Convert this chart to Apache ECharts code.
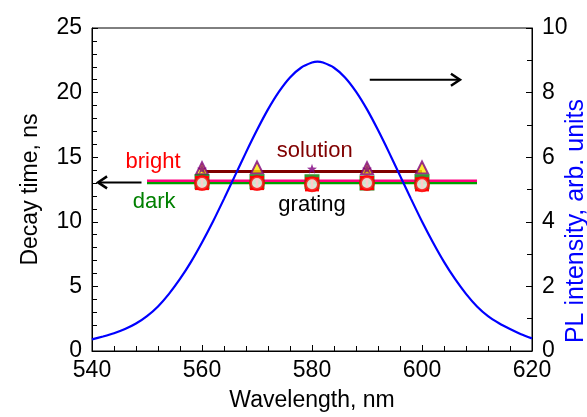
<!DOCTYPE html>
<html>
<head>
<meta charset="utf-8">
<script src="https://cdn.jsdelivr.net/npm/echarts@6/dist/echarts.min.js"></script>
<style>
  html, body { margin: 0; padding: 0; background: #fff; }
  #chart { width: 587px; height: 417px; }
</style>
</head>
<body>
<div id="chart"></div>
<script>
// PL spectrum (right axis)
const wavelength = [540, 542, 544, 546, 548, 550, 552, 554, 556, 558, 560, 562, 564, 566, 568, 570, 572, 574, 576, 578, 580, 581,
  582, 584, 586, 588, 590, 592, 594, 596, 598, 600, 602, 604, 606, 608, 610, 612, 614, 616, 618, 620];
const plIntensity = [0.36, 0.45, 0.55, 0.68, 0.85, 1.08, 1.38, 1.77, 2.23, 2.76, 3.36, 4.01, 4.71, 5.43, 6.15, 6.84, 7.48, 8.03, 8.47, 8.77, 8.93, 8.96,
  8.93, 8.77, 8.47, 8.03, 7.48, 6.84, 6.15, 5.43, 4.71, 4.01, 3.36, 2.76, 2.23, 1.77, 1.38, 1.08, 0.86, 0.68, 0.52, 0.39];

// decay times (left axis)
const markerWl = [560, 570, 580, 590, 600];
const brightCircle = [13.0, 13.0, 12.9, 13.0, 12.9];
const brightErr = [0.45, 0.45, 0.45, 0.45, 0.45];
const darkSquare = [13.1, 13.1, 13.1, 13.0, 13.1];
const solutionTriWl = [560, 570, 590, 600];
const solutionTri = [14.15, 14.2, 14.15, 14.2];
const solutionStarWl = [560, 580, 590];
const solutionStar = [14.1, 14.1, 14.1];

// fitted levels
const solutionLevelWl = [560, 600];
const solutionLevel = [13.9, 13.9];
const gratingLevelWl = [550, 610];
const brightLevel = [13.18, 13.18];
const darkLevel = [13.02, 13.02];

const pair = (xs, ys) => xs.map((x, i) => [x, ys[i]]);

const font = 'Liberation Sans, Arial, sans-serif';
const star = 'path://M0,-10L2.35,-3.24L9.51,-3.09L3.8,1.24L5.88,8.09L0,4L-5.88,8.09L-3.8,1.24L-9.51,-3.09L-2.35,-3.24Z';

var chart = echarts.init(document.getElementById('chart'));

var option = {
  animation: false,
  backgroundColor: '#fff',
  grid: { left: 92, right: 55, top: 28, bottom: 64, show: true, borderColor: '#000', borderWidth: 1 },
  xAxis: {
    type: 'value', min: 540, max: 620, interval: 20,
    name: 'Wavelength, nm', nameLocation: 'middle', nameGap: 38,
    nameTextStyle: { fontFamily: font, fontSize: 23, color: '#000' },
    axisLine: { lineStyle: { color: '#000', width: 1 } },
    axisTick: { inside: true, length: 6, lineStyle: { color: '#000' } },
    minorTick: { show: true, splitNumber: 5, length: 5, lineStyle: { color: '#000' } },
    axisLabel: { fontFamily: font, fontSize: 23, color: '#000', margin: 8 },
    splitLine: { show: false }
  },
  yAxis: [{
    type: 'value', min: 0, max: 25, interval: 5,
    name: 'Decay time, ns', nameLocation: 'middle', nameGap: 50,
    nameTextStyle: { fontFamily: font, fontSize: 23, color: '#000' },
    axisLine: { show: true, lineStyle: { color: '#000', width: 1 } },
    axisTick: { show: true, inside: true, length: 6, lineStyle: { color: '#000' } },
    minorTick: { show: true, splitNumber: 5, length: 5, lineStyle: { color: '#000' } },
    axisLabel: { fontFamily: font, fontSize: 23, color: '#000', margin: 10 },
    splitLine: { show: false }
  }, {
    type: 'value', min: 0, max: 10, interval: 2, position: 'right',
    axisLine: { show: true, lineStyle: { color: '#000', width: 1 } },
    axisTick: { show: true, inside: true, length: 6, lineStyle: { color: '#000' } },
    minorTick: { show: true, splitNumber: 2, length: 5, lineStyle: { color: '#000' } },
    axisLabel: { fontFamily: font, fontSize: 23, color: '#000', margin: 10 },
    splitLine: { show: false }
  }],
  series: [
    {
      type: 'line', data: pair(solutionLevelWl, solutionLevel), symbol: 'none',
      lineStyle: { color: '#800000', width: 3 }, z: 2
    },
    {
      type: 'line', data: pair(gratingLevelWl, darkLevel), symbol: 'none',
      lineStyle: { color: '#00a000', width: 3 }, z: 2
    },
    {
      type: 'line', data: pair(gratingLevelWl, brightLevel), symbol: 'none',
      lineStyle: { color: '#ff0080', width: 2.5 }, z: 2
    },
    {
      type: 'line', yAxisIndex: 1, data: pair(wavelength, plIntensity),
      symbol: 'none', smooth: 0.2, lineStyle: { color: '#0000ff', width: 2.2 }, z: 3
    },
    {
      type: 'scatter', data: pair(solutionTriWl, solutionTri), symbol: 'triangle', symbolSize: 12,
      itemStyle: { color: '#ffe800', borderColor: '#800080', borderWidth: 2 }, z: 4
    },
    {
      type: 'scatter', data: pair(solutionStarWl, solutionStar), symbol: star, symbolSize: 10,
      itemStyle: { color: '#800080' }, z: 5
    },
    {
      type: 'scatter', data: pair(markerWl, darkSquare), symbol: 'rect', symbolSize: 15,
      itemStyle: { color: '#008000' }, z: 4
    },
    {
      type: 'custom', z: 5,
      data: markerWl.map((x, i) => [x, brightCircle[i], brightCircle[i] - brightErr[i], brightCircle[i] + brightErr[i]]),
      renderItem: function (params, api) {
        var lo = api.coord([api.value(0), api.value(2)]);
        var hi = api.coord([api.value(0), api.value(3)]);
        var st = { stroke: '#ff0000', lineWidth: 2.5 };
        return {
          type: 'group',
          children: [
            { type: 'line', shape: { x1: lo[0], y1: lo[1], x2: hi[0], y2: hi[1] }, style: st },
            { type: 'line', shape: { x1: lo[0] - 7, y1: lo[1], x2: lo[0] + 7, y2: lo[1] }, style: st },
            { type: 'line', shape: { x1: hi[0] - 7, y1: hi[1], x2: hi[0] + 7, y2: hi[1] }, style: st }
          ]
        };
      }
    },
    {
      type: 'scatter', data: pair(markerWl, brightCircle), symbol: 'circle', symbolSize: 13,
      itemStyle: { color: '#fff', borderColor: '#ff0000', borderWidth: 3 }, z: 6
    }
  ]
};

chart.setOption(option);

// annotations placed in data coordinates
const labels = [
  { text: 'bright', at: [551.1, 14.6], color: '#ff0000' },
  { text: 'dark', at: [551.3, 11.5], color: '#008000' },
  { text: 'solution', at: [580.5, 15.5], color: '#800000' },
  { text: 'grating', at: [580.0, 11.3], color: '#000' }
];
const arrows = [
  { from: [549.0, 13.05], to: [541.1, 13.05], axis: 0 },
  { from: [590.5, 8.4], to: [606.9, 8.4], axis: 1 }
];

function px(p, axis) {
  return chart.convertToPixel({ xAxisIndex: 0, yAxisIndex: axis }, p);
}

var graphics = labels.map(function (l) {
  var p = px(l.at, 0);
  return {
    type: 'text', x: p[0], y: p[1], z: 10,
    style: { text: l.text, fill: l.color, font: '22px ' + font, textAlign: 'center', textVerticalAlign: 'middle' }
  };
});

arrows.forEach(function (a) {
  var s = px(a.from, a.axis), e = px(a.to, a.axis);
  var dir = e[0] > s[0] ? -1 : 1;
  graphics.push({ type: 'line', z: 10, shape: { x1: s[0], y1: s[1], x2: e[0], y2: e[1] }, style: { stroke: '#000', lineWidth: 2 } });
  graphics.push({
    type: 'polyline', z: 10,
    shape: { points: [[e[0] + dir * 9, e[1] - 6], [e[0], e[1]], [e[0] + dir * 9, e[1] + 6]] },
    style: { stroke: '#000', lineWidth: 2.5, fill: 'none' }
  });
});

// right axis title (blue)
graphics.push({
  type: 'text', x: 576, y: 221, rotation: Math.PI / 2, z: 10,
  style: { text: 'PL intensity, arb. units', fill: '#0000ff', font: '25px ' + font, textAlign: 'center', textVerticalAlign: 'middle' }
});

chart.setOption({ graphic: graphics });
</script>
</body>
</html>
